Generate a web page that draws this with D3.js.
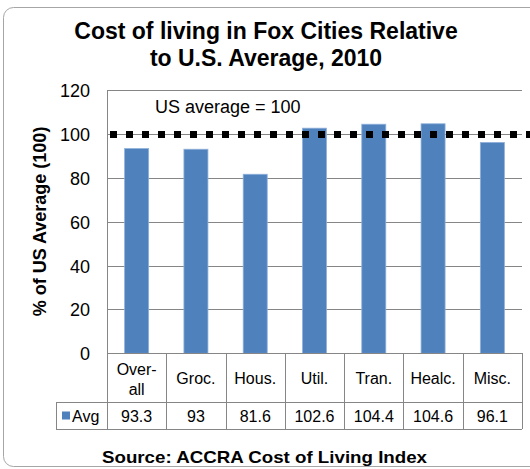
<!DOCTYPE html>
<html>
<head>
<meta charset="utf-8">
<script src="https://cdn.jsdelivr.net/npm/d3@7"></script>
<style>
  html, body { margin: 0; padding: 0; background: #fff; }
  svg { display: block; }
  text { font-family: "Liberation Sans", Arial, sans-serif; fill: #000; }
</style>
</head>
<body>
<svg id="chart" width="530" height="469"></svg>
<script>
const categories = ["Over-all", "Groc.", "Hous.", "Util.", "Tran.", "Healc.", "Misc."];
const categoryLines = [["Over-", "all"], ["Groc."], ["Hous."], ["Util."], ["Tran."], ["Healc."], ["Misc."]];
const avgValues = [93.3, 93, 81.6, 102.6, 104.4, 104.6, 96.1];
const avgLabels = ["93.3", "93", "81.6", "102.6", "104.4", "104.6", "96.1"];
const yTicks = [0, 20, 40, 60, 80, 100, 120];
const usAverage = 100;
const seriesName = "Avg";
const titleLines = ["Cost of living in Fox Cities Relative", "to U.S. Average, 2010"];
const yTitle = "% of US Average (100)";
const sourceText = "Source:  ACCRA Cost of Living Index";
const refLabel = "US average = 100";

(function () {
const svg = d3.select("#chart");
const pLeft = 107, pRight = 522, pTop = 90, pBottom = 353.3;
const rowMid = 402, rowBottom = 429, tableLeft = 56;
const gridColor = "#868686";
const barColor = "#4F81BD";

// outer rounded border
svg.append("rect").attr("x", 3.5).attr("y", 7.5).attr("width", 545).attr("height", 459)
  .attr("rx", 10).attr("fill", "#fff").attr("stroke", "#a6a6a6").attr("stroke-width", 1);

// title
svg.append("g").selectAll("text").data(titleLines).join("text")
  .attr("x", 266).attr("y", (d, i) => 38.5 + i * 27)
  .attr("text-anchor", "middle").attr("font-size", 23).attr("font-weight", "bold")
  .text(d => d);

const x = d3.scaleBand().domain(categories).range([pLeft, pRight]).paddingInner(0.595).paddingOuter(0.2975);
const y = d3.scaleLinear().domain([0, 120]).range([pBottom, pTop]);

// gridlines
svg.append("g").selectAll("line").data(yTicks.filter(t => t > 0)).join("line")
  .attr("x1", pLeft).attr("x2", pRight)
  .attr("y1", d => Math.round(y(d)) + 0.5).attr("y2", d => Math.round(y(d)) + 0.5)
  .attr("stroke", gridColor).attr("stroke-width", 1);

// y axis tick labels
const yAxis = d3.axisLeft(y).tickValues(yTicks).tickSize(0).tickPadding(0);
const yg = svg.append("g").attr("transform", `translate(${90},0)`).call(yAxis);
yg.select(".domain").remove();
yg.selectAll("text").attr("font-size", 18).attr("font-family", "Liberation Sans, Arial, sans-serif")
  .attr("fill", "#000").attr("dy", "0.36em");

// y title
svg.append("text").attr("transform", `translate(46, 221.5) rotate(-90)`)
  .attr("text-anchor", "middle").attr("font-size", 18).attr("font-weight", "bold")
  .text(yTitle);

// bars
svg.append("g").selectAll("rect").data(avgValues).join("rect")
  .attr("x", (d, i) => x(categories[i]))
  .attr("width", x.bandwidth())
  .attr("y", d => y(d))
  .attr("height", d => pBottom - y(d))
  .attr("fill", barColor).attr("stroke", "#8eb0da").attr("stroke-width", 0.8);

// US average dotted line
svg.append("line").attr("x1", 110).attr("x2", 531)
  .attr("y1", y(usAverage) + 0.5).attr("y2", y(usAverage) + 0.5)
  .attr("stroke", "#000").attr("stroke-width", 7).attr("stroke-dasharray", "7,9");

svg.append("text").attr("x", 155).attr("y", 113).attr("font-size", 18).text(refLabel);

// plot left border & axis
svg.append("line").attr("x1", pLeft + 0.5).attr("x2", pLeft + 0.5).attr("y1", pTop).attr("y2", rowBottom)
  .attr("stroke", gridColor);
svg.append("line").attr("x1", pLeft).attr("x2", pRight).attr("y1", Math.round(pBottom) + 0.5).attr("y2", Math.round(pBottom) + 0.5)
  .attr("stroke", gridColor);

// data table
const boundaries = categories.map(c => x(c) - x.step() * x.paddingInner() / 2).concat([pRight]);
svg.append("g").selectAll("line").data(boundaries.slice(1)).join("line")
  .attr("x1", d => Math.round(d) + 0.5).attr("x2", d => Math.round(d) + 0.5)
  .attr("y1", Math.round(pBottom)).attr("y2", rowBottom)
  .attr("stroke", gridColor);
svg.append("line").attr("x1", tableLeft).attr("x2", pRight).attr("y1", rowMid + 0.5).attr("y2", rowMid + 0.5).attr("stroke", gridColor);
svg.append("line").attr("x1", tableLeft).attr("x2", pRight).attr("y1", rowBottom + 0.5).attr("y2", rowBottom + 0.5).attr("stroke", gridColor);
svg.append("line").attr("x1", tableLeft + 0.5).attr("x2", tableLeft + 0.5).attr("y1", rowMid).attr("y2", rowBottom).attr("stroke", gridColor);

// category labels
const cg = svg.append("g").selectAll("g").data(categories).join("g");
cg.each(function(c, i) {
  const lines = categoryLines[i];
  const cx = x(c) + x.bandwidth() / 2;
  const g = d3.select(this);
  lines.forEach((l, j) => {
    const yy = lines.length === 1 ? 384 : 375 + j * 20;
    g.append("text").attr("x", cx).attr("y", yy).attr("text-anchor", "middle")
      .attr("font-size", 16).text(l);
  });
});

// data row
svg.append("g").selectAll("text").data(avgLabels).join("text")
  .attr("x", (d, i) => x(categories[i]) + x.bandwidth() / 2)
  .attr("y", 422).attr("text-anchor", "middle").attr("font-size", 16)
  .text(d => d);

// legend key
svg.append("rect").attr("x", 62).attr("y", 411.5).attr("width", 8).attr("height", 8).attr("fill", barColor);
svg.append("text").attr("x", 72).attr("y", 422).attr("font-size", 16).text(seriesName);

// source
svg.append("text").attr("x", 264.5).attr("y", 463).attr("text-anchor", "middle")
  .attr("font-size", 17).attr("font-weight", "bold")
  .attr("textLength", 325).attr("lengthAdjust", "spacingAndGlyphs")
  .text(sourceText);
})();
</script>
</body>
</html>
